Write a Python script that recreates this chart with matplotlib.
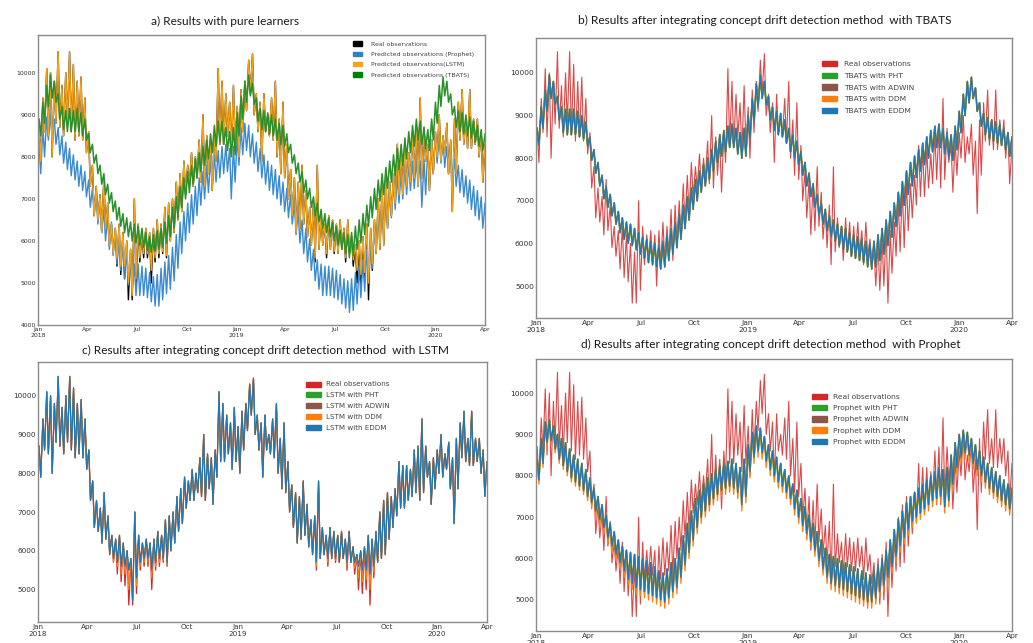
import matplotlib
matplotlib.use("agg")
import matplotlib.pyplot as plt
import matplotlib.dates as mdates
from matplotlib.patches import Patch
import numpy as np
import pandas as pd

W, H = 1033, 643

# one peak and one trough per week, weeks starting Mon 1 Jan 2018
week_start = pd.date_range("2018-01-01", periods=118, freq="7D")

real_hi = [8700, 9400, 10100, 10000, 9800, 10500, 9700, 10000, 10500, 10200,
           9800, 9900, 9400, 8600, 7800, 7300, 7100, 7500, 6900, 6400,
           6300, 6400, 6200, 6000, 5800, 7000, 6400, 6200, 6300, 6200,
           6300, 6500, 6400, 6800, 6900, 7000, 7400, 7600, 7900, 7800,
           8100, 8000, 8400, 9000, 8500, 8400, 8600, 10100, 9800, 9500,
           9300, 9700, 9200, 9600, 9800, 10300, 10450, 9500, 9300, 9500,
           9000, 9400, 9800, 8900, 9300, 8300, 7700, 7500, 7400, 7800,
           7200, 6800, 6900, 7800, 6600, 6400, 6600, 6500, 6400, 6500,
           6300, 6500, 6100, 5900, 6000, 6100, 6400, 6300, 6500, 7000,
           7300, 7500, 7400, 7600, 8300, 8200, 8200, 8100, 8600, 8700,
           9400, 8700, 8300, 8400, 8600, 9000, 8500, 8800, 8400, 8900,
           9300, 9600, 8900, 9600, 8900, 8900, 8600, 8300]
real_lo = [7900, 8600, 8500, 8000, 8800, 8700, 8500, 8800, 8600, 8400,
           8500, 8400, 8100, 7300, 6600, 6500, 6200, 6300, 5900, 5700,
           5400, 5200, 5100, 4600, 4600, 4900, 5500, 5600, 5600, 5000,
           5500, 5600, 5700, 5600, 6000, 6200, 6500, 6700, 7100, 7300,
           7300, 7500, 7400, 7300, 7600, 7200, 7900, 8300, 8300, 8500,
           8100, 8300, 8000, 8600, 9100, 9500, 9000, 8600, 7900, 8600,
           8500, 8400, 8000, 7600, 7500, 7000, 6600, 6200, 6300, 6400,
           6100, 5900, 5500, 5800, 5900, 5600, 5800, 5700, 5700, 5800,
           5500, 5700, 5400, 5000, 4900, 5000, 4600, 5300, 5700, 5800,
           5900, 6300, 6600, 6900, 7100, 7100, 7300, 7400, 7500, 7300,
           7500, 7900, 7200, 7600, 8000, 7900, 8100, 7600, 6700, 7600,
           8400, 8300, 8200, 8200, 8300, 8000, 7400, 7600]

# LSTM follows the peaks; its troughs stay shallower over the summers
lstm_lo = [7900, 8600, 8500, 8000, 8800, 8700, 8500, 8800, 8600, 8400,
           8500, 8400, 8100, 7300, 6600, 6500, 6200, 6300, 5900, 5800,
           5700, 5600, 5600, 5500, 4700, 5300, 5700, 5800, 5800, 5500,
           5700, 5800, 5800, 5700, 6000, 6200, 6500, 6700, 7100, 7300,
           7300, 7500, 7400, 7300, 7600, 7200, 7900, 8300, 8300, 8500,
           8100, 8300, 8000, 8600, 9100, 9500, 9000, 8600, 7900, 8600,
           8500, 8400, 8000, 7600, 7500, 7000, 6600, 6200, 6300, 6400,
           6100, 5900, 5700, 5800, 5900, 5800, 5800, 5800, 5700, 5800,
           5700, 5700, 5700, 5600, 5500, 5500, 5400, 5600, 5700, 5800,
           5900, 6300, 6600, 6900, 7100, 7100, 7300, 7400, 7500, 7300,
           7500, 7900, 7200, 7600, 8000, 7900, 8100, 7600, 6700, 7600,
           8400, 8300, 8200, 8200, 8300, 8000, 7400, 7600]
lstm_ddm_lo = [7900, 8600, 8500, 8000, 8800, 8700, 8500, 8800, 8600, 8400,
               8500, 8400, 8100, 7300, 6600, 6500, 6200, 6300, 5900, 5700,
               5600, 5400, 5400, 5000, 4700, 5100, 5600, 5700, 5700, 5300,
               5600, 5700, 5750, 5650, 6000, 6200, 6500, 6700, 7100, 7300,
               7300, 7500, 7400, 7300, 7600, 7200, 7900, 8300, 8300, 8500,
               8100, 8300, 8000, 8600, 9100, 9500, 9000, 8600, 7900, 8600,
               8500, 8400, 8000, 7600, 7500, 7000, 6600, 6200, 6300, 6400,
               6100, 5900, 5600, 5800, 5900, 5700, 5800, 5750, 5700, 5800,
               5600, 5700, 5550, 5300, 5200, 5250, 5000, 5450, 5700, 5800,
               5900, 6300, 6600, 6900, 7100, 7100, 7300, 7400, 7500, 7300,
               7500, 7900, 7200, 7600, 8000, 7900, 8100, 7600, 6700, 7600,
               8400, 8300, 8200, 8200, 8300, 8000, 7400, 7600]

prophet_hi = [8300, 8700, 8950, 9000, 8900, 8700, 8500, 8350, 8200, 8050,
              7900, 7800, 7650, 7450, 7250, 7100, 6950, 6750, 6600, 6450,
              6300, 6150, 6000, 5850, 5650, 5450, 5450, 5400, 5350, 5250,
              5150, 5200, 5350, 5500, 5650, 5850, 6150, 6450, 6700, 6900,
              7100, 7300, 7500, 7650, 7800, 7950, 8050, 8150, 8250, 8300,
              8200, 8250, 8500, 8700, 8800, 8750, 8550, 8350, 8200, 8050,
              7900, 7800, 7700, 7550, 7400, 7250, 7100, 6900, 6700, 6500,
              6300, 6050, 5800, 5550, 5450, 5400, 5400, 5350, 5300, 5200,
              5100, 5050, 5100, 5250, 5400, 5550, 5800, 6100, 6400, 6650,
              6850, 7050, 7250, 7400, 7550, 7650, 7750, 7850, 7900, 7950,
              7900, 7950, 8200, 8400, 8500, 8500, 8400, 8250, 8100, 7950,
              7800, 7700, 7550, 7450, 7300, 7200, 7050, 6900]
prophet_lo = [7600, 8000, 8400, 8450, 8300, 8050, 7850, 7700, 7550, 7450,
              7300, 7200, 7050, 6800, 6600, 6400, 6200, 6000, 5800, 5650,
              5450, 5300, 5100, 4950, 4800, 4700, 4700, 4700, 4650, 4550,
              4450, 4450, 4600, 4750, 4850, 5050, 5350, 5700, 6000, 6200,
              6400, 6600, 6850, 7000, 7150, 7300, 7400, 7500, 7600, 7650,
              7000, 7400, 7800, 8050, 8150, 8000, 7850, 7650, 7500, 7350,
              7200, 7100, 7000, 6850, 6700, 6550, 6400, 6150, 5950, 5700,
              5500, 5300, 5050, 4850, 4700, 4700, 4700, 4650, 4600, 4500,
              4400, 4300, 4350, 4500, 4650, 4800, 5000, 5350, 5700, 5950,
              6150, 6350, 6550, 6750, 6900, 7000, 7100, 7200, 7250, 7300,
              6800, 7100, 7500, 7750, 7850, 7850, 7750, 7600, 7450, 7300,
              7150, 7050, 6900, 6750, 6600, 6500, 6300, 6100]

tbats_hi = [8900, 9300, 9700, 9950, 9800, 9500, 9200, 9100, 9150, 9100,
            9150, 9050, 8900, 8550, 8300, 8050, 7800, 7600, 7350, 7150,
            6950, 6800, 6650, 6550, 6450, 6400, 6350, 6300, 6200, 6100,
            6150, 6250, 6300, 6450, 6600, 6800, 7050, 7300, 7500, 7650,
            7800, 7950, 8100, 8250, 8400, 8550, 8750, 8850, 8850, 8700,
            8600, 8700, 9050, 9450, 9800, 9950, 9750, 9400, 9150, 9100,
            9050, 9000, 8900, 8800, 8750, 8550, 8300, 8050, 7850, 7650,
            7450, 7250, 7050, 6900, 6750, 6650, 6550, 6450, 6350, 6250,
            6200, 6150, 6200, 6350, 6500, 6650, 6850, 7050, 7250, 7450,
            7600, 7750, 7900, 8050, 8200, 8300, 8450, 8600, 8750, 8900,
            8850, 8700, 8650, 8900, 9300, 9700, 9900, 9800, 9500, 9200,
            9100, 9050, 9000, 8950, 8850, 8750, 8650, 8550]
tbats_lo = [8500, 8800, 9200, 9400, 9300, 8900, 8650, 8600, 8600, 8600,
            8600, 8500, 8400, 8100, 7850, 7600, 7350, 7100, 6900, 6700,
            6500, 6350, 6200, 6100, 6000, 5950, 5900, 5850, 5780, 5730,
            5750, 5800, 5850, 5950, 6100, 6300, 6550, 6800, 7000, 7150,
            7350, 7500, 7650, 7800, 7950, 8100, 8250, 8350, 8300, 8150,
            8000, 8050, 8500, 8900, 9300, 9450, 9250, 8850, 8650, 8600,
            8550, 8500, 8400, 8300, 8250, 8100, 7850, 7600, 7400, 7150,
            7000, 6800, 6600, 6450, 6300, 6200, 6100, 6000, 5900, 5800,
            5700, 5600, 5650, 5800, 5950, 6150, 6350, 6550, 6750, 6950,
            7100, 7250, 7400, 7550, 7700, 7800, 7950, 8100, 8250, 8400,
            8300, 8200, 8150, 8400, 8800, 9200, 9450, 9300, 9000, 8700,
            8600, 8550, 8500, 8450, 8350, 8250, 8150, 8100]

# TBATS once the drift detectors are plugged in
tbats_cd_hi = [8700, 9200, 9600, 9950, 9800, 9450, 9200, 9150, 9150, 9150,
               9100, 9000, 8850, 8500, 8200, 7900, 7600, 7350, 7150, 6950,
               6750, 6600, 6500, 6450, 6350, 6250, 6150, 6100, 6050, 6000,
               5950, 6050, 6200, 6350, 6500, 6700, 6900, 7100, 7300, 7500,
               7700, 7850, 8000, 8200, 8400, 8550, 8650, 8750, 8800, 8700,
               8600, 8700, 9000, 9400, 9750, 9950, 9800, 9450, 9200, 9100,
               9050, 8900, 8700, 8550, 8400, 8150, 7900, 7650, 7400, 7150,
               6950, 6800, 6650, 6550, 6450, 6400, 6350, 6250, 6200, 6150,
               6100, 6050, 6000, 6050, 6200, 6350, 6550, 6750, 6950, 7200,
               7450, 7700, 7900, 8050, 8200, 8350, 8500, 8650, 8750, 8800,
               8700, 8600, 8550, 8750, 9100, 9500, 9800, 9900, 9650, 9300,
               9050, 8950, 8900, 8850, 8800, 8700, 8600, 8500]
tbats_cd_lo = [8300, 8700, 9100, 9400, 9250, 8900, 8600, 8550, 8550, 8550,
               8500, 8450, 8300, 7950, 7650, 7350, 7050, 6850, 6650, 6450,
               6250, 6100, 6000, 5950, 5850, 5750, 5650, 5550, 5500, 5450,
               5400, 5450, 5600, 5750, 5900, 6100, 6350, 6550, 6800, 7000,
               7200, 7350, 7500, 7700, 7900, 8050, 8150, 8250, 8250, 8100,
               8000, 8050, 8450, 8850, 9200, 9400, 9250, 8900, 8650, 8550,
               8500, 8350, 8150, 8000, 7850, 7600, 7350, 7100, 6850, 6650,
               6450, 6300, 6150, 6050, 5950, 5850, 5800, 5700, 5650, 5600,
               5550, 5450, 5400, 5450, 5600, 5750, 5950, 6150, 6400, 6650,
               6900, 7150, 7350, 7550, 7700, 7850, 8000, 8150, 8250, 8250,
               8100, 8000, 7950, 8200, 8600, 9000, 9300, 9400, 9100, 8750,
               8550, 8450, 8400, 8350, 8300, 8200, 8050, 7950]

# Prophet once the drift detectors are plugged in (DDM dips a little deeper)
prophet_cd_hi = [8400, 8900, 9300, 9350, 9200, 9000, 8900, 8800, 8650, 8500,
                 8400, 8300, 8150, 7950, 7700, 7500, 7300, 7050, 6850, 6650,
                 6450, 6300, 6200, 6150, 6100, 6050, 6000, 5950, 5900, 5800,
                 5700, 5650, 5750, 5900, 6000, 6250, 6550, 6850, 7150, 7450,
                 7650, 7800, 7950, 8050, 8150, 8250, 8300, 8350, 8400, 8300,
                 8200, 8400, 8750, 9050, 9200, 9150, 8950, 8750, 8600, 8450,
                 8300, 8150, 8000, 7800, 7650, 7450, 7250, 7050, 6850, 6650,
                 6450, 6250, 6100, 6050, 6000, 5950, 5900, 5850, 5800, 5750,
                 5700, 5650, 5600, 5700, 5850, 6000, 6200, 6450, 6700, 6950,
                 7150, 7350, 7500, 7600, 7700, 7800, 7900, 8000, 8100, 8200,
                 8150, 8200, 8500, 8800, 9000, 9100, 9050, 8900, 8750, 8600,
                 8450, 8300, 8200, 8100, 8000, 7900, 7800, 7700]
prophet_cd_lo = [7900, 8300, 8800, 8850, 8650, 8400, 8250, 8100, 7950, 7850,
                 7750, 7650, 7500, 7350, 7150, 6950, 6750, 6500, 6300, 6100,
                 5900, 5700, 5500, 5400, 5300, 5250, 5200, 5150, 5100, 5050,
                 5000, 4950, 5050, 5200, 5300, 5550, 5850, 6150, 6450, 6750,
                 7000, 7150, 7300, 7450, 7550, 7650, 7700, 7750, 7700, 7600,
                 7300, 7500, 8100, 8450, 8600, 8550, 8350, 8150, 8000, 7850,
                 7750, 7600, 7450, 7200, 7000, 6800, 6600, 6400, 6200, 5950,
                 5750, 5550, 5400, 5350, 5300, 5250, 5200, 5150, 5100, 5050,
                 5000, 4950, 4950, 5050, 5200, 5350, 5550, 5800, 6050, 6300,
                 6500, 6700, 6900, 7000, 7100, 7200, 7300, 7400, 7450, 7500,
                 7250, 7400, 7800, 8200, 8450, 8550, 8500, 8300, 8150, 8000,
                 7850, 7700, 7600, 7500, 7400, 7300, 7200, 7100]
prophet_ddm_lo = [7800, 8200, 8700, 8750, 8550, 8300, 8150, 8000, 7850, 7750,
                  7650, 7550, 7400, 7200, 7000, 6800, 6600, 6350, 6150, 5950,
                  5750, 5550, 5350, 5250, 5150, 5100, 5050, 5000, 4950, 4900,
                  4850, 4800, 4900, 5050, 5150, 5400, 5700, 6000, 6300, 6600,
                  6850, 7000, 7150, 7300, 7400, 7500, 7550, 7600, 7550, 7450,
                  7150, 7350, 7950, 8300, 8450, 8400, 8200, 8000, 7850, 7700,
                  7600, 7450, 7300, 7050, 6850, 6650, 6450, 6250, 6050, 5800,
                  5600, 5400, 5250, 5200, 5150, 5100, 5050, 5000, 4950, 4900,
                  4850, 4800, 4800, 4900, 5050, 5200, 5400, 5650, 5900, 6150,
                  6350, 6550, 6750, 6850, 6950, 7050, 7150, 7250, 7300, 7350,
                  7100, 7250, 7650, 8050, 8300, 8400, 8350, 8150, 8000, 7850,
                  7700, 7550, 7450, 7350, 7250, 7150, 7050, 6950]

days_hi = week_start + pd.Timedelta(days=2)
days_lo = week_start + pd.Timedelta(days=5)


def weekly(hi, lo):
    t = np.empty(2 * len(week_start), dtype="datetime64[ns]")
    t[0::2] = days_hi.values
    t[1::2] = days_lo.values
    v = np.empty(2 * len(week_start))
    v[0::2] = hi
    v[1::2] = lo
    return t, v


fig = plt.figure(figsize=(W / 100, H / 100), dpi=100)


def panel(l, t, r, b, ylim, yticks, fs):
    ax = fig.add_axes([l / W, 1 - b / H, (r - l) / W, (b - t) / H])
    ax.set_xlim(pd.Timestamp("2018-01-01"), pd.Timestamp("2020-04-01"))
    ax.set_ylim(*ylim)
    ax.set_yticks(yticks)
    ax.xaxis.set_major_locator(mdates.YearLocator())
    ax.xaxis.set_major_formatter(mdates.DateFormatter("%b\n%Y"))
    ax.xaxis.set_minor_locator(mdates.MonthLocator(bymonth=[4, 7, 10]))
    ax.xaxis.set_minor_formatter(mdates.DateFormatter("%b"))
    ax.tick_params(which="both", length=0, labelsize=fs, colors="#333333", pad=1.5)
    for s in ax.spines.values():
        s.set_color("#8a8a8a")
        s.set_linewidth(1.0)
    return ax


def legend(ax, labels, colors, x, y, fs, hl, htp, ls):
    handles = [Patch(color=c) for c in colors]
    ax.legend(handles, labels, loc="upper left", bbox_to_anchor=(x / W, 1 - y / H),
              bbox_transform=fig.transFigure, frameon=False, fontsize=fs,
              handlelength=hl, handleheight=0.7, handletextpad=htp, labelspacing=ls,
              borderpad=0, borderaxespad=0, labelcolor="#444444")


def title(x, y, s):
    fig.text(x / W, 1 - y / H, s, ha="center", va="center", fontsize=8.6,
             family="Lato", color="#1a1a1a")


drift = ["PHT", "ADWIN", "DDM", "EDDM"]
drift_colors = ["tab:green", "tab:brown", "tab:orange", "tab:blue"]
drift_lw = [1.25, 0.7, 0.9, 0.9]

# a) pure learners
ax = panel(38, 35, 485, 325, (4000, 10900), range(4000, 10001, 1000), 4.4)
ax.plot(*weekly(real_hi, real_lo), color="black", lw=1.0)
ax.plot(*weekly(prophet_hi, prophet_lo), color="#3a8ad0", lw=1.0)
ax.plot(*weekly(real_hi, lstm_ddm_lo), color="#f5a31a", lw=1.0)
ax.plot(*weekly(tbats_hi, tbats_lo), color="#2a912a", lw=1.1)
legend(ax, ["Real observations", "Predicted observations (Prophet)",
            "Predicted observations(LSTM)", "Predicted observations (TBATS)"],
       ["black", "#2f80c8", "#f5a31a", "green"], 353, 41.4, 4.5, 1.5, 1.4, 0.78)
title(225, 21, "a) Results with pure learners")

# b) TBATS + drift detection
ax = panel(536, 38, 1012, 318, (4250, 10820), range(5000, 10001, 1000), 5.4)
ax.plot(*weekly(real_hi, real_lo), color="tab:red", lw=0.8, alpha=0.85)
for name, c, lw in zip(drift, drift_colors, drift_lw):
    ax.plot(*weekly(tbats_cd_hi, tbats_cd_lo), color=c, lw=lw)
legend(ax, ["Real observations"] + ["TBATS with " + d for d in drift],
       ["tab:red"] + drift_colors, 822, 60.8, 5.4, 2.0, 0.93, 0.74)
title(764.5, 20.7, "b) Results after integrating concept drift detection method  with TBATS")

# c) LSTM + drift detection
ax = panel(38, 362, 487, 622, (4163, 10870), range(5000, 10001, 1000), 5.2)
ax.plot(*weekly(real_hi, real_lo), color="tab:red", lw=0.9)
for name, c in zip(drift, drift_colors):
    lo = lstm_ddm_lo if name == "DDM" else lstm_lo
    ax.plot(*weekly(real_hi, lo), color=c, lw=0.85 if name in ("DDM", "EDDM") else 0.6)
legend(ax, ["Real observations"] + ["LSTM with " + d for d in drift],
       ["tab:red"] + drift_colors, 306, 381.5, 5.1, 2.07, 0.7, 0.69)
title(265, 350.7, "c) Results after integrating concept drift detection method  with LSTM")

# d) Prophet + drift detection
ax = panel(536, 359, 1012, 631, (4250, 10823), range(5000, 10001, 1000), 5.4)
ax.plot(*weekly(real_hi, real_lo), color="tab:red", lw=0.8, alpha=0.85)
for name, c, lw in zip(drift, drift_colors, drift_lw):
    lo = prophet_ddm_lo if name == "DDM" else prophet_cd_lo
    ax.plot(*weekly(prophet_cd_hi, lo), color=c, lw=lw)
legend(ax, ["Real observations"] + ["Prophet with " + d for d in drift],
       ["tab:red"] + drift_colors, 811.7, 394, 5.4, 2.0, 0.8, 0.65)
title(770.5, 344, "d) Results after integrating concept drift detection method  with Prophet")

fig.savefig("out.png", dpi=100)
